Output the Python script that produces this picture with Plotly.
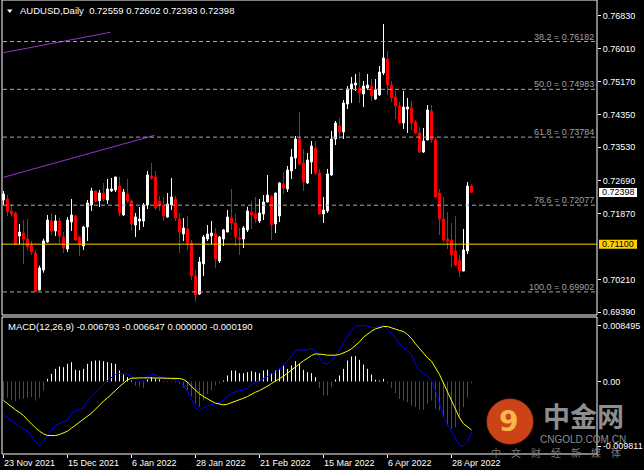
import plotly.graph_objects as go
import pandas as pd

# ---------------- data ----------------
bar_dates = pd.bdate_range("2021-11-23", periods=118)
tick_dates = ["2021-11-23", "2021-12-15", "2022-01-06", "2022-01-28",
              "2022-02-21", "2022-03-15", "2022-04-06", "2022-04-28"]
tick_labels = ["23 Nov 2021", "15 Dec 2021", "6 Jan 2022", "28 Jan 2022",
               "21 Feb 2022", "15 Mar 2022", "6 Apr 2022", "28 Apr 2022"]

opens = [0.72208, 0.72233, 0.71932, 0.71882, 0.71305, 0.71380, 0.71230, 0.71062, 0.70879, 0.69951,
         0.70452, 0.71155, 0.71681, 0.71431, 0.71681, 0.71280, 0.70979, 0.71656, 0.71807, 0.71280,
         0.71054, 0.71531, 0.72083, 0.72434, 0.72190, 0.72384, 0.72208, 0.72434, 0.72459, 0.72559,
         0.71832, 0.72358, 0.72183, 0.71581, 0.71681, 0.71681, 0.72083, 0.72810, 0.72785, 0.72183,
         0.72083, 0.71782, 0.72083, 0.72233, 0.71732, 0.71355, 0.71481, 0.71130, 0.70302, 0.69851,
         0.70603, 0.71230, 0.71305, 0.71355, 0.70678, 0.71230, 0.71405, 0.71757, 0.71631, 0.71255,
         0.71230, 0.71456, 0.71907, 0.71857, 0.71681, 0.71857, 0.72158, 0.72308, 0.71606, 0.71807,
         0.72609, 0.72484, 0.72935, 0.73261, 0.73738, 0.73136, 0.72634, 0.73161, 0.73512, 0.72885,
         0.71857, 0.71932, 0.72835, 0.73738, 0.74064, 0.73913, 0.74616, 0.74992, 0.75092, 0.75017,
         0.74867, 0.75017, 0.75067, 0.74741, 0.74841, 0.75393, 0.75744, 0.75092, 0.74791, 0.74566,
         0.74139, 0.74490, 0.74515, 0.74164, 0.73888, 0.73412, 0.73713, 0.74440, 0.73713, 0.72384,
         0.71732, 0.71230, 0.71205, 0.70929, 0.70703, 0.70427, 0.70929, 0.72559]
highs = [0.72434, 0.72333, 0.72108, 0.71915, 0.71606, 0.71706, 0.71732, 0.71180, 0.70954, 0.70560,
         0.71237, 0.71832, 0.71882, 0.71832, 0.71757, 0.71405, 0.71782, 0.72233, 0.71832, 0.71305,
         0.71556, 0.72208, 0.72516, 0.72440, 0.72459, 0.72634, 0.72735, 0.72760, 0.72790, 0.72785,
         0.72484, 0.72735, 0.72225, 0.71882, 0.72032, 0.72133, 0.72935, 0.73136, 0.72935, 0.72308,
         0.72283, 0.72384, 0.72760, 0.72308, 0.71882, 0.71757, 0.71807, 0.71205, 0.70452, 0.70778,
         0.71330, 0.71581, 0.71681, 0.71506, 0.71305, 0.71481, 0.71957, 0.72484, 0.71857, 0.71506,
         0.71556, 0.72040, 0.72183, 0.72283, 0.72233, 0.72333, 0.72835, 0.72315, 0.72390, 0.72659,
         0.72910, 0.73061, 0.73487, 0.73813, 0.74415, 0.73487, 0.73387, 0.73688, 0.73688, 0.72986,
         0.72283, 0.72986, 0.73939, 0.74189, 0.74265, 0.74716, 0.75067, 0.75293, 0.75368, 0.75418,
         0.75193, 0.75368, 0.75243, 0.75243, 0.75569, 0.76622, 0.75945, 0.75193, 0.74942, 0.74666,
         0.74942, 0.74766, 0.74691, 0.74214, 0.74039, 0.74014, 0.74591, 0.74591, 0.73788, 0.72484,
         0.72283, 0.71907, 0.71631, 0.71807, 0.70829, 0.71481, 0.72659, 0.72602]
lows = [0.72083, 0.71807, 0.71789, 0.71090, 0.71097, 0.70603, 0.70937, 0.70829, 0.69905, 0.69940,
        0.70385, 0.71137, 0.71330, 0.71305, 0.71122, 0.70879, 0.70904, 0.71431, 0.71180, 0.70804,
        0.70954, 0.71180, 0.71932, 0.72158, 0.72032, 0.72166, 0.72108, 0.72409, 0.72409, 0.71807,
        0.71807, 0.72125, 0.71438, 0.71280, 0.71456, 0.71531, 0.71982, 0.72710, 0.71957, 0.71932,
        0.71681, 0.71757, 0.71957, 0.71681, 0.70879, 0.71180, 0.70954, 0.70202, 0.69657, 0.69825,
        0.70302, 0.71180, 0.71105, 0.70503, 0.70628, 0.71054, 0.71400, 0.71456, 0.71054, 0.70829,
        0.71004, 0.71405, 0.71481, 0.71631, 0.71631, 0.71706, 0.72150, 0.71205, 0.71380, 0.71656,
        0.72358, 0.72409, 0.72735, 0.72986, 0.73086, 0.72434, 0.72609, 0.72860, 0.72835, 0.71832,
        0.71631, 0.71882, 0.72810, 0.73587, 0.73738, 0.73738, 0.74490, 0.74641, 0.74942, 0.74641,
        0.74540, 0.74967, 0.74691, 0.74716, 0.74816, 0.75343, 0.74841, 0.74666, 0.74240, 0.74114,
        0.73989, 0.73888, 0.73964, 0.73863, 0.73387, 0.73387, 0.73705, 0.73638, 0.72276, 0.71330,
        0.71155, 0.70979, 0.70528, 0.70553, 0.70277, 0.70420, 0.70854, 0.72393]
closes = [0.72358, 0.71915, 0.71864, 0.71097, 0.71405, 0.71230, 0.71037, 0.70911, 0.69915, 0.70503,
          0.71180, 0.71706, 0.71431, 0.71681, 0.71305, 0.71012, 0.71706, 0.71832, 0.71205, 0.71105,
          0.71531, 0.72133, 0.72434, 0.72183, 0.72384, 0.72233, 0.72484, 0.72484, 0.72785, 0.71882,
          0.72409, 0.72183, 0.71606, 0.71782, 0.71732, 0.72083, 0.72835, 0.72760, 0.72007, 0.72083,
          0.71807, 0.72108, 0.72283, 0.71757, 0.71405, 0.71506, 0.71130, 0.70302, 0.69825, 0.70653,
          0.71280, 0.71355, 0.71380, 0.70728, 0.71280, 0.71456, 0.71782, 0.71631, 0.71280, 0.71230,
          0.71506, 0.71932, 0.71832, 0.71732, 0.71882, 0.72158, 0.72333, 0.71581, 0.72384, 0.72634,
          0.72509, 0.72960, 0.73286, 0.73738, 0.73111, 0.72659, 0.73211, 0.73562, 0.72885, 0.71857,
          0.71957, 0.72860, 0.73738, 0.74139, 0.73913, 0.74641, 0.74992, 0.75117, 0.75142, 0.74892,
          0.75067, 0.75092, 0.74816, 0.74967, 0.75418, 0.75769, 0.75092, 0.74766, 0.74566, 0.74139,
          0.74540, 0.74540, 0.74139, 0.73888, 0.73412, 0.73688, 0.74465, 0.73713, 0.72283, 0.71732,
          0.71205, 0.71180, 0.70829, 0.70578, 0.70427, 0.70954, 0.72559, 0.72398]

macd_main = [-0.005006, -0.005512, -0.006018, -0.006321, -0.006827, -0.007181, -0.007535, -0.008192, -0.009204, -0.009608,
             -0.009052, -0.008192, -0.007282, -0.006675, -0.006321, -0.006068, -0.005917, -0.004804, -0.004400, -0.004298,
             -0.003894, -0.002984, -0.002175, -0.001618, -0.000961, -0.000455, 0.000152, 0.000657, 0.001062, 0.001214,
             0.001214, 0.001163, 0.000708, 0.000303, 0.000000, 0.000152, 0.000657, 0.001163, 0.000961, 0.000759,
             0.000556, 0.000405, 0.000405, 0.000253, -0.000101, -0.000607, -0.001467, -0.002781, -0.003995, -0.004400,
             -0.004046, -0.003692, -0.003489, -0.003388, -0.003186, -0.002781, -0.002175, -0.001770, -0.001517, -0.001365,
             -0.001315, -0.001011, -0.000506, -0.000101, 0.000051, 0.000455, 0.000860, 0.001163, 0.001416, 0.001821,
             0.002427, 0.003085, 0.003843, 0.004703, 0.004855, 0.004703, 0.004804, 0.004956, 0.004602, 0.003692,
             0.002781, 0.002680, 0.003186, 0.004046, 0.004804, 0.005866, 0.006878, 0.007838, 0.008395, 0.008495,
             0.008495, 0.008395, 0.008192, 0.008192, 0.008445, 0.008395, 0.007990, 0.007333, 0.006473, 0.005714,
             0.005108, 0.004703, 0.004046, 0.002680, 0.001669, 0.001163, 0.000860, 0.000152, -0.001365, -0.003388,
             -0.005310, -0.006524, -0.007535, -0.008698, -0.009650, -0.009811, -0.009204, -0.007687]
macd_signal = [-0.002882, -0.003388, -0.003894, -0.004298, -0.004703, -0.005158, -0.005816, -0.006473, -0.007029, -0.007535,
               -0.007939, -0.008192, -0.008192, -0.008192, -0.008041, -0.007838, -0.007535, -0.007080, -0.006625, -0.006220,
               -0.005765, -0.005310, -0.004804, -0.004197, -0.003540, -0.002984, -0.002478, -0.001972, -0.001365, -0.000759,
               -0.000253, 0.000253, 0.000506, 0.000556, 0.000556, 0.000556, 0.000556, 0.000556, 0.000556, 0.000556,
               0.000556, 0.000556, 0.000556, 0.000556, 0.000455, 0.000303, -0.000101, -0.000759, -0.001365, -0.001871,
               -0.002276, -0.002680, -0.002984, -0.003287, -0.003439, -0.003540, -0.003439, -0.003236, -0.003034, -0.002781,
               -0.002529, -0.002276, -0.001922, -0.001618, -0.001365, -0.001062, -0.000708, -0.000303, 0.000051, 0.000405,
               0.000809, 0.001264, 0.001770, 0.002276, 0.002680, 0.003135, 0.003540, 0.003944, 0.004197, 0.004197,
               0.004096, 0.003995, 0.003944, 0.003995, 0.004096, 0.004298, 0.004602, 0.004956, 0.005462, 0.006018,
               0.006726, 0.007232, 0.007636, 0.007990, 0.008192, 0.008344, 0.008344, 0.008192, 0.007939, 0.007737,
               0.007586, 0.007130, 0.006524, 0.005714, 0.004956, 0.004197, 0.003590, 0.003085, 0.002073, 0.001062,
               -0.000253, -0.001618, -0.002781, -0.004400, -0.005512, -0.006422, -0.006928, -0.007333]
macd_hist = [-0.002882, -0.002478, -0.002781, -0.002984, -0.002630, -0.002630, -0.002478, -0.002377, -0.002882, -0.002478,
             -0.001365, 0.000405, 0.001163, 0.001922, 0.002276, 0.002174, 0.002680, 0.002933, 0.001770, 0.001669,
             0.001922, 0.002680, 0.003085, 0.003186, 0.003186, 0.003085, 0.002933, 0.002781, 0.002680, 0.001669,
             0.001062, 0.000657, 0.000152, -0.000607, -0.000759, -0.000961, 0.000303, 0.000657, 0.000405, 0.000303,
             0.000051, -0.000101, -0.000101, -0.000152, -0.000354, -0.000961, -0.001365, -0.002276, -0.003388, -0.003894,
             -0.002882, -0.001871, -0.001365, -0.000607, -0.000253, 0.000152, 0.000910, 0.001669, 0.001669, 0.001264,
             0.001264, 0.001416, 0.001568, 0.001416, 0.001264, 0.001669, 0.001770, 0.001264, 0.001669, 0.001922,
             0.002427, 0.001922, 0.002427, 0.003085, 0.002680, 0.001770, 0.001416, 0.001264, 0.000657, -0.000961,
             -0.002124, -0.002124, -0.000860, 0.000303, 0.000910, 0.001922, 0.003186, 0.003793, 0.003843, 0.003287,
             0.002579, 0.001922, 0.001062, 0.000253, 0.000152, 0.000405, -0.000253, -0.000961, -0.001770, -0.002630,
             -0.002882, -0.003135, -0.003641, -0.003894, -0.004298, -0.004298, -0.003388, -0.002882, -0.004147, -0.004400,
             -0.005411, -0.006675, -0.007181, -0.006928, -0.005411, -0.003894, -0.002478, -0.000253]

fib_names = ["38.2", "50.0", "61.8", "78.6", "100.0"]
fib_levels = [0.76182, 0.74983, 0.73784, 0.72077, 0.69902]
support_level = 0.71100
last_price = 0.72398
trend_x = [[0, 26.75], [0, 37.75]]
trend_y = [[0.75902, 0.76414], [0.72777, 0.73830]]
price_ticks = [0.76830, 0.76010, 0.75170, 0.74350, 0.73530, 0.72690, 0.71870, 0.70210, 0.69390]
macd_ticks = [0.008495, 0.0, -0.009811]
macd_tick_text = ["0.008495", "0.00", "-0.009811"]
header_ohlc = "0.72559 0.72602 0.72393 0.72398"
macd_header = "MACD(12,26,9) -0.006793 -0.006647 0.000000 -0.000190"

# ---------------- figure ----------------
W, H = 644, 470
ML, MR, MT, MB = 2, 47, 0, 16
PW, PH = W - ML - MR, H - MT - MB
def px(xp): return (xp - ML) / PW
def py(yp): return (H - MB - yp) / PH

idx = list(range(len(bar_dates)))
date_str = [d.strftime("%Y-%m-%d") for d in bar_dates]
tick_pos = [date_str.index(d) for d in tick_dates]

FONT = "Liberation Sans, Arial, sans-serif"
fig = go.Figure()

fig.add_trace(go.Candlestick(
    x=idx, open=opens, high=highs, low=lows, close=closes,
    increasing=dict(line=dict(color="#ffffff", width=1), fillcolor="#ffffff"),
    decreasing=dict(line=dict(color="#ff0000", width=1), fillcolor="#ff0000"),
    whiskerwidth=0, showlegend=False, hoverinfo="skip", xaxis="x", yaxis="y"))

for tx, ty in zip(trend_x, trend_y):
    fig.add_trace(go.Scatter(x=tx, y=ty, mode="lines", line=dict(color="#9932cc", width=1),
                             showlegend=False, hoverinfo="skip", xaxis="x", yaxis="y"))

# histogram as thin 1px sticks
for positive, col in [(True, "#ffffff"), (False, "#ff0000")]:
    hx, hy = [], []
    for i, v in zip(idx, macd_hist):
        if (v > 0) == positive:
            hx += [i, i, None]
            hy += [0, v, None]
    fig.add_trace(go.Scatter(x=hx, y=hy, mode="lines", line=dict(color=col, width=1),
                             showlegend=False, hoverinfo="skip", xaxis="x", yaxis="y2"))
fig.add_trace(go.Scatter(x=idx, y=macd_main, mode="lines", line=dict(color="#0000ff", width=1),
                         showlegend=False, hoverinfo="skip", xaxis="x", yaxis="y2"))
fig.add_trace(go.Scatter(x=idx, y=macd_signal, mode="lines", line=dict(color="#ffff00", width=1),
                         showlegend=False, hoverinfo="skip", xaxis="x", yaxis="y2"))

main_dom = [py(315), 1.0]
macd_dom = [0.0, py(317)]
ppu = 3987.0
y_top = 0.7683 + 15.7 / ppu
y_bot = y_top - 315 / ppu
mpu = 6592.0
m_top = (381.5 - 317) / mpu
m_bot = (381.5 - 454) / mpu

shapes = []
annotations = []
# fib lines + labels
for name, lev in zip(fib_names, fib_levels):
    shapes.append(dict(type="line", xref="paper", yref="y", x0=px(3), x1=px(596), y0=lev, y1=lev,
                       line=dict(color="#a8a8a8", width=1, dash="4px,3px")))
    annotations.append(dict(xref="paper", yref="y", x=px(596), y=lev, xanchor="right", yanchor="bottom",
                            text=f"{name} = {lev:.5f}", showarrow=False, yshift=-2,
                            font=dict(family=FONT, size=9, color="#a0a0a8")))
# support line
shapes.append(dict(type="line", xref="paper", yref="y", x0=0, x1=1, y0=support_level, y1=support_level,
                   line=dict(color="#ffd000", width=1)))
# price label boxes
for val, bg in [(last_price, "#ffffff"), (support_level, "#ffd000")]:
    shapes.append(dict(type="rect", xref="paper", yref="y", x0=px(599), x1=px(637),
                       y0=val - 4.5 / ppu, y1=val + 4.5 / ppu, fillcolor=bg, line=dict(width=0)))
    annotations.append(dict(xref="paper", yref="y", x=px(600), y=val, xanchor="left", yanchor="middle",
                            text=f"{val:.5f}", showarrow=False,
                            font=dict(family=FONT, size=9, color="#000000")))
# panel borders
shapes.append(dict(type="rect", xref="x domain", yref="y domain", x0=0, x1=1, y0=0, y1=1,
                   line=dict(color="#ffffff", width=1)))
shapes.append(dict(type="rect", xref="x domain", yref="y2 domain", x0=0, x1=1, y0=0, y1=1,
                   line=dict(color="#ffffff", width=1)))
# header triangle
shapes.append(dict(type="path", xref="paper", yref="paper",
                   path=f"M {px(7)} {py(9.5)} L {px(12.5)} {py(9.5)} L {px(9.75)} {py(13)} Z",
                   fillcolor="#ffffff", line=dict(width=0)))
annotations.append(dict(xref="paper", yref="paper", x=px(18), y=py(10.5), xanchor="left", yanchor="middle",
                        text="AUDUSD,Daily  " + header_ohlc, showarrow=False,
                        font=dict(family=FONT, size=9.5, color="#ffffff")))
annotations.append(dict(xref="paper", yref="paper", x=px(6), y=py(326.5), xanchor="left", yanchor="middle",
                        text=macd_header, showarrow=False,
                        font=dict(family=FONT, size=9.5, color="#ffffff")))
# date labels
for pos, lab in zip(tick_pos, tick_labels):
    annotations.append(dict(xref="x", yref="paper", x=pos, y=py(463), xanchor="left", yanchor="middle",
                            xshift=-2, text=lab, showarrow=False,
                            font=dict(family=FONT, size=9, color="#ffffff")))
# watermark
shapes.append(dict(type="circle", xref="paper", yref="paper", x0=px(487), x1=px(533), y0=py(444), y1=py(399),
                   fillcolor="#d8471a", line=dict(color="#c73a14", width=1), opacity=0.95))
annotations.append(dict(xref="paper", yref="paper", x=px(508), y=py(421), xanchor="center", yanchor="middle",
                        text="<b>9</b>", showarrow=False,
                        font=dict(family="DejaVu Sans", size=28, color="#f6b84a")))
annotations.append(dict(xref="paper", yref="paper", x=px(583), y=py(415), xanchor="center", yanchor="middle",
                        text="<b>中金网</b>", showarrow=False,
                        font=dict(family="Noto Sans CJK SC", size=27, color="#8e8e8e")))
annotations.append(dict(xref="paper", yref="paper", x=px(583), y=py(439), xanchor="center", yanchor="middle",
                        text="CNGOLD.COM.CN", showarrow=False,
                        font=dict(family=FONT, size=10, color="#8e8e8e")))
annotations.append(dict(xref="paper", yref="paper", x=px(556), y=py(452), xanchor="center", yanchor="middle",
                        text="中\u3000文\u3000财\u3000经\u3000新\u3000媒\u3000体",
                        showarrow=False, font=dict(family="Noto Sans CJK SC", size=10, color="#7a7a7a")))

fig.update_layout(
    width=W, height=H, margin=dict(l=ML, r=MR, t=MT, b=MB),
    paper_bgcolor="#000000", plot_bgcolor="#000000", showlegend=False,
    font=dict(family=FONT, size=9, color="#ffffff"),
    xaxis=dict(range=[-0.375, 148.375], domain=[0, 1], anchor="y2", showgrid=False, zeroline=False,
               showticklabels=False, ticks="outside", ticklen=3, tickcolor="#ffffff",
               tickvals=tick_pos, rangeslider=dict(visible=False), showline=False, fixedrange=True),
    yaxis=dict(domain=main_dom, range=[y_bot, y_top], side="right", anchor="x", showgrid=False,
               zeroline=False, tickvals=price_ticks, ticktext=[f"{v:.5f}" for v in price_ticks],
               ticks="outside", ticklen=3, tickcolor="#ffffff", showline=False,
               tickfont=dict(family=FONT, size=9, color="#ffffff")),
    yaxis2=dict(domain=macd_dom, range=[m_bot, m_top], side="right", anchor="x", showgrid=False,
                zeroline=False, tickvals=macd_ticks, ticktext=macd_tick_text,
                ticks="outside", ticklen=3, tickcolor="#ffffff", showline=False,
                tickfont=dict(family=FONT, size=9, color="#ffffff")),
    shapes=shapes, annotations=annotations,
)

fig.write_html("out.html")
